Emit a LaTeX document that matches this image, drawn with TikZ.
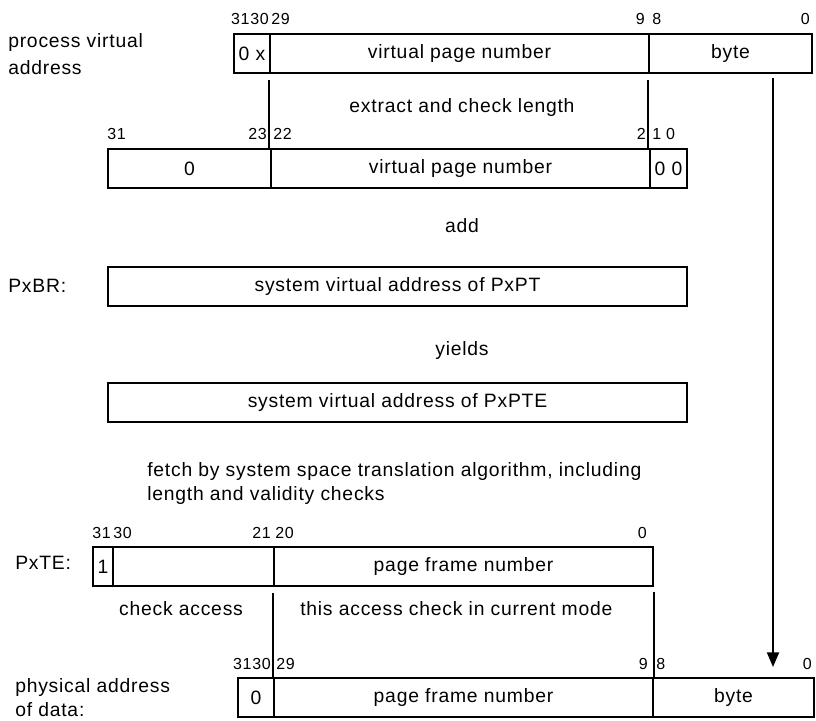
\documentclass[tikz,border=0pt]{standalone}
\usepackage{fontspec}
\setmainfont{Liberation Sans}[LetterSpace=4]
\usetikzlibrary{arrows.meta,calc}
\tikzset{
  fld/.style={draw, line width=1.5pt, inner sep=0pt, minimum height=29.25pt,
              anchor=north west, font=\fontsize{14.5}{17}\selectfont},
  num/.style={inner sep=0pt, font=\fontsize{12}{14}\selectfont},
  txt/.style={inner sep=0pt, font=\fontsize{14.5}{17}\selectfont},
  conn/.style={line width=1.5pt},
}
\begin{document}
\begin{tikzpicture}[x=0.75pt,y=-0.75pt]
\useasboundingbox (0,0) rectangle (816,720);

% ---------- box 1 : process virtual address
\node[fld, minimum width=36*0.75pt]  (b1x)   at (233,33) {0 x};
\node[fld, minimum width=379*0.75pt] (b1vpn) at (269,33) {virtual page number};
\node[fld, minimum width=163*0.75pt] (b1byte) at (648,33) {byte};
\node[num, anchor=base east] (l1a) at (269,25) {3130};
\node[num, anchor=base west] (l1b) at (271,25) {29};
\node[num, anchor=base east] (l1c) at (645,25) {9};
\node[num, anchor=base west] (l1d) at (652,25) {8};
\node[num, anchor=base east] (l1e) at (810,25) {0};
\node[txt, anchor=base west] (t1a) at (8,48) {process virtual};
\node[txt, anchor=base west] (t1b) at (8,75) {address};

\node[txt, anchor=base] (t2) at (462,113) {extract and check length};

% ---------- box 2
\node[fld, minimum width=163*0.75pt] (b2z)   at (107,148) {0};
\node[fld, minimum width=379*0.75pt] (b2vpn) at (270,148) {virtual page number};
\node[fld, minimum width=37*0.75pt]  (b2zz)  at (649,148) {0 0};
\node[num, anchor=base west] (l2a) at (107,140) {31};
\node[num, anchor=base east] (l2b) at (267,140) {23};
\node[num, anchor=base west] (l2c) at (273,140) {22};
\node[num, anchor=base east] (l2d) at (646,140) {2};
\node[num, anchor=base west] (l2e) at (652,140) {1 0};

\node[txt, anchor=base] (t3) at (462,232) {add};

% ---------- box 3 : PxBR
\node[fld, minimum width=579*0.75pt] (b3) at (107,266) {system virtual address of PxPT};
\node[txt, anchor=base west] (t4) at (8,292) {PxBR:};

\node[txt, anchor=base] (t5) at (462,355) {yields};

% ---------- box 4
\node[fld, minimum width=579*0.75pt] (b4) at (107,382) {system virtual address of PxPTE};

\node[txt, anchor=base west] (t6a) at (147,476) {fetch by system space translation algorithm, including};
\node[txt, anchor=base west] (t6b) at (147,500) {length and validity checks};

% ---------- box 5 : PxTE
\node[fld, minimum width=20*0.75pt]  (b5one) at (92,546) {1};
\node[fld, minimum width=161*0.75pt] (b5mid) at (112,546) {};
\node[fld, minimum width=379*0.75pt] (b5pfn) at (273,546) {page frame number};
\node[num, anchor=base east] (l5a) at (111,538) {31};
\node[num, anchor=base west] (l5b) at (113,538) {30};
\node[num, anchor=base east] (l5c) at (271,538) {21};
\node[num, anchor=base west] (l5d) at (275,538) {20};
\node[num, anchor=base east] (l5e) at (647,538) {0};
\node[txt, anchor=base west] (t7) at (15,569) {PxTE:};

\node[txt, anchor=base] (t8a) at (181,615) {check access};
\node[txt, anchor=base west] (t8b) at (300,615) {this access check in current mode};

% ---------- box 6 : physical address
\node[fld, minimum width=36*0.75pt]  (b6z)    at (237,677) {0};
\node[fld, minimum width=379*0.75pt] (b6pfn)  at (273,677) {page frame number};
\node[fld, minimum width=161*0.75pt] (b6byte) at (652,677) {byte};
\node[num, anchor=base east] (l6a) at (271,669) {3130};
\node[num, anchor=base west] (l6b) at (276,669) {29};
\node[num, anchor=base east] (l6c) at (648,669) {9};
\node[num, anchor=base west] (l6d) at (656,669) {8};
\node[num, anchor=base east] (l6e) at (812,669) {0};
\node[txt, anchor=base west] (t9a) at (15,692) {physical address};
\node[txt, anchor=base west] (t9b) at (15,716) {of data:};

% ---------- connectors
\draw[conn] ([yshift=-4.5pt]b1vpn.south west) -- (b1vpn.south west |- b2vpn.north);
\draw[conn] ([yshift=-4.5pt]b1byte.south west) -- (b1byte.south west |- b2zz.north);
\coordinate (arrS) at (773,78);
\coordinate (arrE) at (773,667);
\draw[conn, -{Triangle[width=9pt,length=11pt]}] (arrS) -- (arrE);
\draw[conn] ([yshift=-4.5pt]b5pfn.south west) -- (b5pfn.south west |- b6pfn.north);
\draw[conn] ([yshift=-4pt]b5pfn.south east) -- (b5pfn.south east |- b6byte.north);
\end{tikzpicture}
\end{document}
